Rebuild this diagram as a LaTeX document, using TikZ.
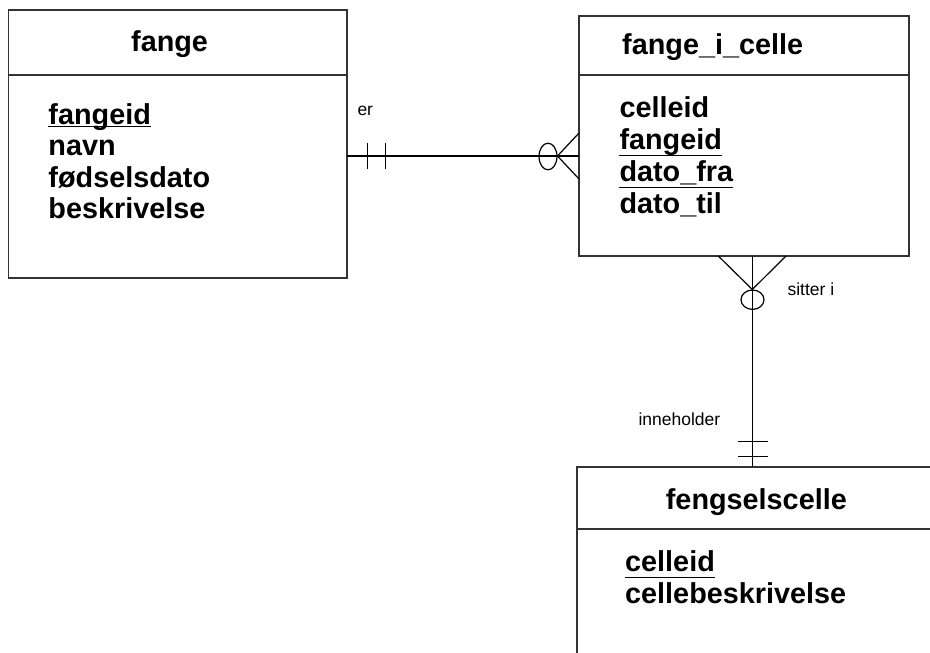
\documentclass[tikz,border=0pt]{standalone}
\usepackage{fontspec}
\setmainfont{Liberation Sans}
\usetikzlibrary{calc}
\begin{document}
\begin{tikzpicture}[x=1pt,y=-1pt,
  box/.style={draw=black!80, line width=1.8pt, inner sep=0pt, outer sep=0pt, anchor=north west},
  sepline/.style={draw=black!80, line width=1.8pt},
  conn/.style={draw=black, line width=1.2pt},
  title/.style={font=\fontsize{28.8}{32}\selectfont\bfseries, inner sep=0pt, anchor=base west},
  attr/.style={font=\fontsize{28.8}{32}\selectfont\bfseries, inner sep=0pt, anchor=base west},
  lbl/.style={font=\fontsize{17.5}{20}\selectfont, inner sep=0pt, anchor=base west},
  ul/.style={draw=black, line width=1.5pt}]
\useasboundingbox (0,0) rectangle (930,653);
\fill[white] (0,0) rectangle (930,653);

% entity boxes
\node[box, minimum width=338.5pt, minimum height=268pt] (fange) at (8.5,10) {};
\node[box, minimum width=330pt, minimum height=240pt] (fic) at (579,16) {};
\begin{scope}
  \clip (0,0) rectangle (930,653);
  \node[box, minimum width=358pt, minimum height=240pt] (fc) at (577,467.3) {};
  \draw[sepline] (fc.west |- 0,529) -- (fc.east |- 0,529);
\end{scope}
\draw[sepline] (fange.west |- 0,75) -- (fange.east |- 0,75);
\draw[sepline] (fic.west |- 0,75) -- (fic.east |- 0,75);

% titles
\node[title] (t1) at (131,51) {fange};
\node[title] (t2) at (622,54) {fange\_i\_celle};
\node[title] (t3) at (665.7,509) {fengselscelle};

% attributes of fange
\node[attr] (f1) at (48.3,124) {fangeid};
\node[attr] (f2) at (48.3,155.7) {navn};
\node[attr] (f3) at (48.3,187) {fødselsdato};
\node[attr] (f4) at (48.3,218.3) {beskrivelse};
\draw[ul] ($(f1.base west)+(0,2.5)$) -- ($(f1.base east)+(0,2.5)$);

% attributes of fange_i_celle
\node[attr] (g1) at (619.3,117) {celleid};
\node[attr] (g2) at (619.3,149) {fangeid};
\node[attr] (g3) at (619.3,181.5) {dato\_fra};
\node[attr] (g4) at (619.3,213.3) {dato\_til};
\draw[ul] ($(g2.base west)+(0,6.7)$) -- ($(g2.base east)+(0,6.7)$);
\draw[ul] ($(g3.base west)+(0,6)$) -- ($(g3.base east)+(0,6)$);

% attributes of fengselscelle
\node[attr] (h1) at (625,571.7) {celleid};
\node[attr] (h2) at (625,603.3) {cellebeskrivelse};
\draw[ul] ($(h1.base west)+(0,6)$) -- ($(h1.base east)+(0,6)$);

% connector fange -- fange_i_celle
\draw[conn] (fange.east |- 0,156) -- (fic.west |- 0,156);
\draw[conn] (367.7,142.7) -- (367.7,169);
\draw[conn] (385.7,142.7) -- (385.7,169);
\draw[conn] (548,156.5) ellipse [x radius=9, y radius=13.3];
\draw[conn] (fic.west |- 0,133) -- (557.5,156) -- (fic.west |- 0,179);
\node[lbl] (er) at (357.3,115) {er};

% connector fange_i_celle -- fengselscelle
\draw[conn] (fic.south -| 752.3,0) -- (fc.north -| 752.3,0);
\draw[conn] (718.3,256) -- (752.3,289.5) -- (786,256);
\draw[conn] (752.5,299.7) ellipse [x radius=11.5, y radius=9.7];
\draw[conn] (738.3,441.7) -- (768.3,441.7);
\draw[conn] (738.3,456.7) -- (768.3,456.7);
\node[lbl] (sitter) at (787.3,295) {sitter i};
\node[lbl] (inne) at (638.3,425.7) {inneholder};
\end{tikzpicture}
\end{document}
